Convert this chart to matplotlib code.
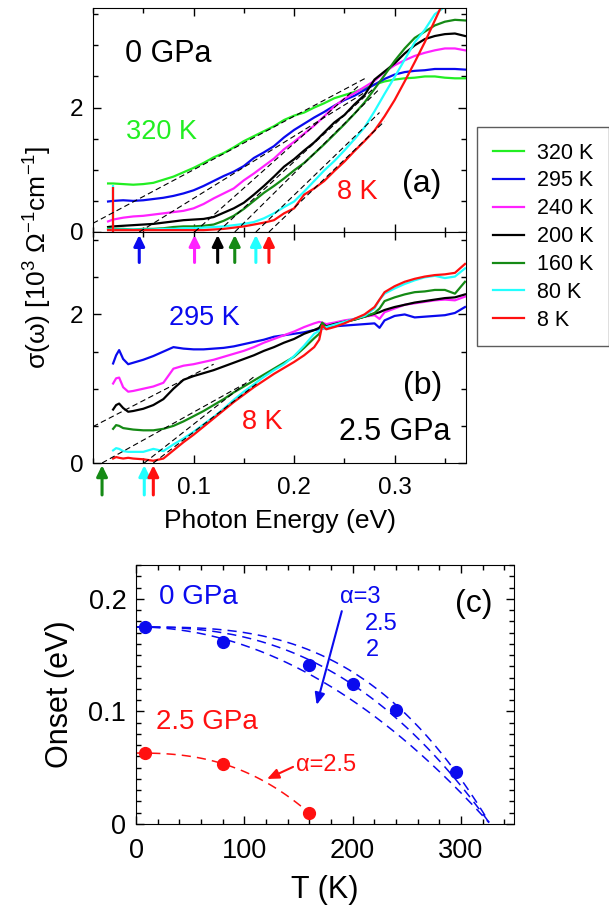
import matplotlib
matplotlib.use('Agg')
import matplotlib.pyplot as plt
import numpy as np
from matplotlib.ticker import MultipleLocator, FixedLocator

plt.rcParams['font.family'] = ['Liberation Sans', 'DejaVu Sans']
plt.rcParams['mathtext.fontset'] = 'custom'
plt.rcParams['mathtext.rm'] = 'Liberation Sans'
plt.rcParams['mathtext.it'] = 'Liberation Sans:italic'

W, H = 609, 911

# ---------------- data ----------------
temps = ['320 K', '295 K', '240 K', '200 K', '160 K', '80 K', '8 K']
colors = ['#22ee22', '#0a0aee', '#ff22ff', '#000000', '#158a15', '#22ffff', '#ff1010']

# Panel (a): 0 GPa
energy_a = [0.015, 0.02, 0.03, 0.04, 0.05, 0.06, 0.07, 0.08, 0.09, 0.10, 0.11, 0.12,
            0.13, 0.14, 0.15, 0.16, 0.17, 0.18, 0.19, 0.20, 0.21, 0.22, 0.23, 0.24,
            0.25, 0.26, 0.27, 0.28, 0.29, 0.30, 0.31, 0.32, 0.33, 0.34, 0.35, 0.36, 0.37]
sig_a_320 = [0.78, 0.78, 0.77, 0.76, 0.77, 0.79, 0.84, 0.89, 0.96, 1.03, 1.11, 1.20,
             1.27, 1.36, 1.46, 1.54, 1.62, 1.70, 1.80, 1.87, 1.92, 2.00, 2.07, 2.15,
             2.20, 2.25, 2.31, 2.37, 2.42, 2.45, 2.47, 2.48, 2.50, 2.50, 2.48, 2.47, 2.47]
sig_a_295 = [0.49, 0.50, 0.51, 0.50, 0.51, 0.53, 0.55, 0.58, 0.62, 0.67, 0.74, 0.82,
             0.90, 0.97, 1.06, 1.19, 1.28, 1.38, 1.52, 1.64, 1.74, 1.84, 1.93, 2.03,
             2.12, 2.19, 2.28, 2.37, 2.46, 2.53, 2.57, 2.59, 2.60, 2.62, 2.62, 2.62, 2.61]
sig_a_240 = [0.17, 0.20, 0.23, 0.25, 0.26, 0.28, 0.30, 0.32, 0.34, 0.38, 0.45, 0.54,
             0.62, 0.70, 0.83, 0.94, 1.06, 1.18, 1.33, 1.45, 1.58, 1.71, 1.86, 2.02,
             2.14, 2.23, 2.33, 2.43, 2.57, 2.68, 2.76, 2.83, 2.88, 2.92, 2.95, 2.95, 2.92]
sig_a_200 = [0.08, 0.09, 0.10, 0.11, 0.12, 0.13, 0.15, 0.17, 0.19, 0.20, 0.21, 0.24,
             0.31, 0.38, 0.47, 0.60, 0.74, 0.89, 1.05, 1.17, 1.31, 1.44, 1.60, 1.76,
             1.88, 2.05, 2.20, 2.45, 2.58, 2.71, 2.87, 3.00, 3.10, 3.15, 3.18, 3.19, 3.15]
sig_a_160 = [0.06, 0.05, 0.05, 0.04, 0.05, 0.05, 0.06, 0.08, 0.09, 0.09, 0.10, 0.12,
             0.18, 0.26, 0.37, 0.50, 0.63, 0.74, 0.86, 0.99, 1.11, 1.26, 1.41, 1.57,
             1.73, 1.90, 2.08, 2.30, 2.52, 2.75, 2.95, 3.12, 3.22, 3.32, 3.38, 3.41, 3.40]
sig_a_80 = [0.04, 0.04, 0.04, 0.04, 0.04, 0.04, 0.05, 0.05, 0.06, 0.06, 0.07, 0.08,
            0.09, 0.11, 0.13, 0.16, 0.22, 0.30, 0.40, 0.49, 0.65, 0.82, 0.99, 1.14,
            1.31, 1.49, 1.68, 1.94, 2.22, 2.49, 2.77, 3.05, 3.25, 3.50, 3.62, 3.75, 3.85]
sig_a_8 = [0.03, 0.03, 0.03, 0.03, 0.03, 0.03, 0.03, 0.03, 0.03, 0.03, 0.03, 0.04,
           0.05, 0.07, 0.09, 0.12, 0.15, 0.19, 0.30, 0.38, 0.60, 0.70, 0.82, 0.98,
           1.13, 1.30, 1.46, 1.63, 1.86, 2.12, 2.42, 2.73, 3.05, 3.40, 3.75, 3.90, 4.00]
spike_energy = 0.0195
spike_top_80 = 0.76
spike_top_8 = 0.72

# extrapolation lines, panel (a): (x0, y0, x1, y1)
fit_a = [(0.0, 0.14, 0.272, 2.48), (0.046, 0.0, 0.270, 2.24), (0.101, 0.0, 0.265, 2.36),
         (0.124, 0.0, 0.280, 2.32), (0.141, 0.0, 0.285, 2.30), (0.162, 0.0, 0.285, 1.92),
         (0.175, 0.0, 0.290, 1.78)]
onset_a = [0.046, 0.101, 0.124, 0.141, 0.162, 0.175]
onset_a_colors = ['#0a0aee', '#ff22ff', '#000000', '#158a15', '#22ffff', '#ff1010']

# Panel (b): 2.5 GPa
energy_b = [0.020, 0.023, 0.026, 0.030, 0.035, 0.04, 0.05, 0.06, 0.07, 0.08, 0.09, 0.10,
            0.11, 0.12, 0.13, 0.14, 0.15, 0.16, 0.17, 0.18, 0.19, 0.20, 0.21, 0.22,
            0.225, 0.228, 0.232, 0.24, 0.25, 0.26, 0.27, 0.28, 0.285, 0.29, 0.30, 0.31,
            0.32, 0.33, 0.34, 0.35, 0.36, 0.37]
sig_b_295 = [1.34, 1.45, 1.52, 1.40, 1.33, 1.35, 1.39, 1.44, 1.50, 1.56, 1.54, 1.53,
             1.53, 1.54, 1.55, 1.57, 1.60, 1.63, 1.66, 1.70, 1.72, 1.74, 1.76, 1.79,
             1.80, 1.81, 1.82, 1.84, 1.85, 1.86, 1.87, 1.88, 1.82, 1.92, 1.98, 2.00,
             1.96, 1.97, 1.98, 1.99, 2.02, 2.10]
sig_b_240 = [1.07, 1.14, 1.15, 1.02, 0.96, 0.97, 1.00, 1.03, 1.08, 1.27, 1.31, 1.33,
             1.36, 1.39, 1.43, 1.47, 1.51, 1.56, 1.62, 1.67, 1.72, 1.77, 1.83, 1.88,
             1.90, 1.89, 1.87, 1.89, 1.92, 1.94, 1.97, 1.99, 1.94, 2.03, 2.08, 2.13,
             2.15, 2.17, 2.19, 2.20, 2.19, 2.24]
sig_b_200 = [0.72, 0.78, 0.80, 0.74, 0.69, 0.70, 0.73, 0.78, 0.86, 1.00, 1.12, 1.17,
             1.21, 1.25, 1.30, 1.35, 1.40, 1.45, 1.51, 1.56, 1.62, 1.67, 1.74, 1.79,
             1.82, 1.88, 1.84, 1.87, 1.90, 1.93, 1.97, 2.01, 2.03, 2.06, 2.10, 2.13,
             2.16, 2.18, 2.20, 2.22, 2.23, 2.27]
sig_b_160 = [0.46, 0.51, 0.50, 0.47, 0.46, 0.45, 0.44, 0.44, 0.46, 0.50, 0.56, 0.63,
             0.70, 0.78, 0.86, 0.95, 1.03, 1.11, 1.19, 1.27, 1.35, 1.43, 1.55, 1.68,
             1.74, 1.89, 1.82, 1.86, 1.90, 1.93, 1.97, 2.02, 2.08, 2.18, 2.23, 2.27,
             2.30, 2.31, 2.33, 2.33, 2.28, 2.44]
sig_b_80 = [0.17, 0.20, 0.19, 0.16, 0.15, 0.15, 0.15, 0.19, 0.16, 0.25, 0.33, 0.42,
            0.52, 0.62, 0.73, 0.85, 0.96, 1.06, 1.16, 1.25, 1.33, 1.44, 1.58, 1.74,
            1.78, 1.81, 1.83, 1.86, 1.90, 1.94, 1.98, 2.08, 2.20, 2.28, 2.35, 2.41,
            2.46, 2.50, 2.52, 2.49, 2.51, 2.62]
sig_b_8 = [0.06, 0.08, 0.07, 0.06, 0.07, 0.06, 0.05, 0.03, 0.06, 0.17, 0.28, 0.38,
           0.49, 0.60, 0.71, 0.82, 0.92, 1.02, 1.11, 1.20, 1.28, 1.36, 1.45, 1.56,
           1.66, 1.85, 1.80, 1.83, 1.88, 1.94, 2.00, 2.10, 2.20, 2.30, 2.38, 2.44,
           2.48, 2.51, 2.53, 2.54, 2.56, 2.68]
fit_b = [(0.0, 0.49, 0.12, 1.33), (0.009, 0.0, 0.150, 1.06),
         (0.051, 0.0, 0.160, 1.16), (0.060, 0.0, 0.165, 1.09)]
onset_b = [0.009, 0.051, 0.060]
onset_b_colors = ['#158a15', '#22ffff', '#ff1010']

# Panel (c): onset vs T
T_0GPa = [8, 80, 160, 200, 240, 295]
onset_0GPa = [0.175, 0.162, 0.141, 0.124, 0.101, 0.046]
T_25GPa = [8, 80, 160]
onset_25GPa = [0.063, 0.053, 0.0095]
# fit parameters E(T) = E0 * (1 - (T/Tc)^alpha)
fit0_E0, fit0_Tc, fit0_alphas = 0.175, 327.0, [3.0, 2.5, 2.0]
fit25_E0, fit25_Tc, fit25_alpha = 0.063, 171.0, 2.5

# ---------------- figure ----------------
fig = plt.figure(figsize=(W / 100, H / 100), dpi=100)


def fx(px):
    return px / W


def fy(py):
    return 1 - py / H


ax_a = fig.add_axes([fx(93), fy(232), (466 - 93) / W, (232 - 8) / H])
ax_b = fig.add_axes([fx(93), fy(463), (466 - 93) / W, (463 - 232) / H])
ax_c = fig.add_axes([fx(136), fy(824), (514 - 136) / W, (824 - 565) / H])

sig_a = [sig_a_320, sig_a_295, sig_a_240, sig_a_200, sig_a_160, sig_a_80, sig_a_8]
sig_b = [sig_b_295, sig_b_240, sig_b_200, sig_b_160, sig_b_80, sig_b_8]

handles = []
for s, c, lab in zip(sig_a, colors, temps):
    ln, = ax_a.plot(energy_a, s, color=c, lw=1.6, label=lab)
    handles.append(ln)
ax_a.vlines(spike_energy, 0, spike_top_80, color=colors[5], lw=1.6)
ax_a.vlines(spike_energy, 0, spike_top_8, color=colors[6], lw=1.6)
for (x0, y0, x1, y1) in fit_a:
    ax_a.plot([x0, x1], [y0, y1], color='k', lw=0.8, ls=(0, (5, 3)))

for s, c in zip(sig_b, colors[1:]):
    ax_b.plot(energy_b, s, color=c, lw=1.6)
for (x0, y0, x1, y1) in fit_b:
    ax_b.plot([x0, x1], [y0, y1], color='k', lw=0.8, ls=(0, (5, 3)))

# onset arrows for panel (a) (drawn in panel b top area)
for xo, c in zip(onset_a, onset_a_colors):
    ax_b.annotate('', xy=(xo, 3.07), xytext=(xo, 2.70),
                  arrowprops=dict(arrowstyle='-|>,head_length=0.65,head_width=0.32',
                                  color=c, lw=2.2, shrinkA=0, shrinkB=0))
for xo, c in zip(onset_b, onset_b_colors):
    ax_b.annotate('', xy=(xo, -0.03), xytext=(xo, -0.43), annotation_clip=False,
                  arrowprops=dict(arrowstyle='-|>,head_length=0.65,head_width=0.32',
                                  color=c, lw=2.2, shrinkA=0, shrinkB=0))

for ax in (ax_a, ax_b):
    ax.set_xlim(0, 0.371)
    ax.xaxis.set_major_locator(FixedLocator([0.1, 0.2, 0.3]))
    ax.xaxis.set_minor_locator(MultipleLocator(0.05))
    ax.yaxis.set_major_locator(FixedLocator([0, 2]))
    ax.yaxis.set_minor_locator(MultipleLocator(0.5))
    ax.tick_params(which='both', direction='in', top=True, right=True, labelsize=17.5, pad=7)
    ax.tick_params(which='major', length=6, width=1)
    ax.tick_params(which='minor', length=3.5, width=1)
ax_a.set_ylim(0, 3.60)
ax_b.set_ylim(0, 3.11)
ax_a.tick_params(labelbottom=False)
ax_a.set_yticklabels(['0', '2'])
ax_b.set_yticklabels(['0', '2'])
ax_b.set_xticklabels(['0.1', '0.2', '0.3'])
ax_b.tick_params(axis='x', pad=10)

# texts panels (a), (b)
fig.text(fx(168), fy(54), '0 GPa', fontsize=22, ha='center', va='center', color='k')
fig.text(fx(162), fy(132), '320 K', fontsize=19.5, ha='center', va='center', color=colors[0])
fig.text(fx(422), fy(184), '(a)', fontsize=23, ha='center', va='center', color='k')
fig.text(fx(357), fy(192), '8 K', fontsize=19.5, ha='center', va='center', color=colors[6])
fig.text(fx(204), fy(318), '295 K', fontsize=19.5, ha='center', va='center', color=colors[1])
fig.text(fx(423), fy(386), '(b)', fontsize=23, ha='center', va='center', color='k')
fig.text(fx(262), fy(422), '8 K', fontsize=19.5, ha='center', va='center', color=colors[6])
fig.text(fx(395), fy(432), '2.5 GPa', fontsize=22, ha='center', va='center', color='k')

fig.text(fx(38), fy(257), r'σ(ω) [10$^{3}$ Ω$^{-1}$cm$^{-1}$]', fontsize=19,
         rotation=90, ha='center', va='center')
fig.text(fx(280), fy(521), 'Photon Energy (eV)', fontsize=19, ha='center', va='center')

# legend
leg = fig.legend(handles, temps, loc='upper left', bbox_to_anchor=(fx(477), fy(127)),
                 frameon=True, fancybox=False, edgecolor='#333333', fontsize=15.5,
                 handlelength=1.45, handletextpad=0.6, labelspacing=0.32, borderpad=0.72,
                 borderaxespad=0)
leg.get_frame().set_linewidth(1.0)

# panel (c)
T_line0 = np.linspace(0, fit0_Tc - 1, 200)
for a in fit0_alphas:
    ax_c.plot(T_line0, fit0_E0 * (1 - (T_line0 / fit0_Tc) ** a), color='#0a0aee',
              lw=1.1, ls=(0, (6, 4)))
T_line25 = np.linspace(0, 163, 100)
ax_c.plot(T_line25, fit25_E0 * (1 - (T_line25 / fit25_Tc) ** fit25_alpha), color='#ff1010',
          lw=1.1, ls=(0, (6, 4)))
ax_c.plot(T_0GPa, onset_0GPa, 'o', color='#0a0aee', ms=8.5)
ax_c.plot(T_25GPa, onset_25GPa, 'o', color='#ff1010', ms=8.5)

ax_c.set_xlim(0, 349)
ax_c.set_ylim(0, 0.23)
ax_c.xaxis.set_major_locator(FixedLocator([0, 100, 200, 300]))
ax_c.xaxis.set_minor_locator(MultipleLocator(20))
ax_c.yaxis.set_major_locator(FixedLocator([0, 0.1, 0.2]))
ax_c.yaxis.set_minor_locator(MultipleLocator(0.01))
ax_c.set_xticklabels(['0', '100', '200', '300'])
ax_c.set_yticklabels(['0', '0.1', '0.2'])
ax_c.tick_params(which='both', direction='in', top=True, right=True, labelsize=19.5, pad=7)
ax_c.tick_params(axis='x', pad=10)
ax_c.tick_params(which='major', length=6, width=1)
ax_c.tick_params(which='minor', length=3.5, width=1)
ax_c.set_xlabel('T (K)', fontsize=22, labelpad=8)
ax_c.set_ylabel('Onset (eV)', fontsize=22, labelpad=10)

fig.text(fx(198), fy(597), '0 GPa', fontsize=20, ha='center', va='center', color='#0a0aee')
fig.text(fx(207), fy(722), '2.5 GPa', fontsize=20, ha='center', va='center', color='#ff1010')
fig.text(fx(326), fy(765), 'α=2.5', fontsize=17, ha='center', va='center', color='#ff1010')
fig.text(fx(340), fy(597), 'α=3', fontsize=17, ha='left', va='center', color='#0a0aee')
fig.text(fx(365), fy(624), '2.5', fontsize=17, ha='left', va='center', color='#0a0aee')
fig.text(fx(366), fy(650), '2', fontsize=17, ha='left', va='center', color='#0a0aee')
fig.text(fx(474), fy(604), '(c)', fontsize=23, ha='center', va='center', color='k')

ax_c.annotate('', xy=(166.8, 0.1058), xytext=(190, 0.189),
              arrowprops=dict(arrowstyle='-|>,head_length=0.7,head_width=0.3',
                              color='#0a0aee', lw=1.5, shrinkA=0, shrinkB=0))
ax_c.annotate('', xy=(121, 0.040), xytext=(145, 0.0507),
              arrowprops=dict(arrowstyle='-|>,head_length=0.7,head_width=0.3',
                              color='#ff1010', lw=1.5, shrinkA=0, shrinkB=0))

fig.savefig('out.png', dpi=100)
